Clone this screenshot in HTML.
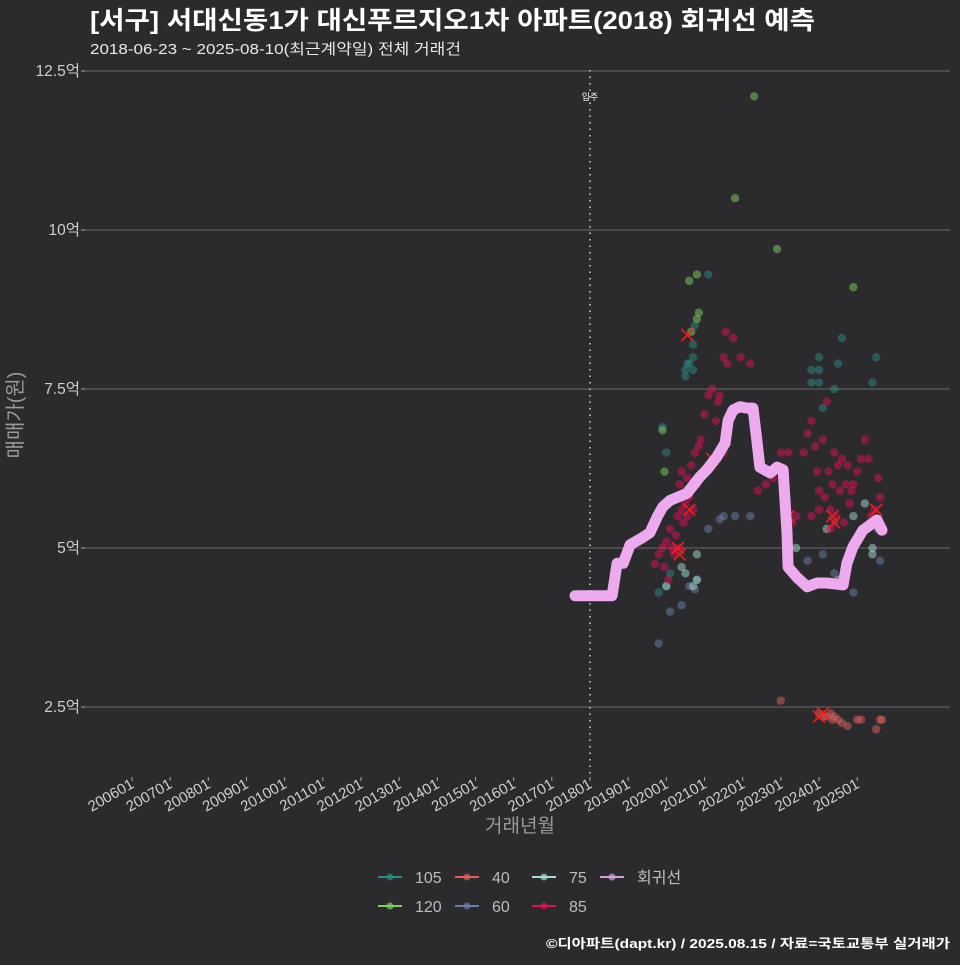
<!DOCTYPE html>
<html><head><meta charset="utf-8">
<style>
html,body{margin:0;padding:0;background:#2b2b2d;}
body{width:960px;height:960px;overflow:hidden;font-family:"Liberation Sans","Noto Sans CJK KR",sans-serif;}
</style></head>
<body>
<svg id="chart" width="960" height="960" xmlns="http://www.w3.org/2000/svg" style="font-family:'Liberation Sans','Noto Sans CJK KR',sans-serif">
<rect x="0" y="0" width="960" height="960" fill="#2b2b2d"/>
<text x="90" y="29" fill="#ffffff" font-size="25" font-weight="bold" textLength="725" lengthAdjust="spacingAndGlyphs">[서구] 서대신동1가 대신푸르지오1차 아파트(2018) 회귀선 예측</text>
<text x="90" y="54" fill="#e8e8e8" font-size="15" textLength="371" lengthAdjust="spacingAndGlyphs">2018-06-23 ~ 2025-08-10(최근계약일) 전체 거래건</text>
<g id="grid"></g>
<g id="xaxis"></g>
<g id="yaxis"></g>
<g id="points"></g>
<g id="line"></g>
<text transform="translate(22,415) rotate(-90)" text-anchor="middle" fill="#9a9a9a" font-size="20">매매가(원)</text>
<text x="520" y="832" text-anchor="middle" fill="#9a9a9a" font-size="19">거래년월</text>
<g id="legend"></g>
<text x="950" y="948" text-anchor="end" fill="#ffffff" font-size="13" font-weight="bold" textLength="404" lengthAdjust="spacingAndGlyphs">©디아파트(dapt.kr) / 2025.08.15 / 자료=국토교통부 실거래가</text>
</svg>
<script>
const yTicks = [2.5, 5, 7.5, 10, 12.5];
const yTickLabels = ["2.5억", "5억", "7.5억", "10억", "12.5억"];
const xTickYears = [2006,2007,2008,2009,2010,2011,2012,2013,2014,2015,2016,2017,2018,2019,2020,2021,2022,2023,2024,2025];
const xTickLabels = ["200601","200701","200801","200901","201001","201101","201201","201301","201401","201501","201601","201701","201801","201901","202001","202101","202201","202301","202401","202501"];
const moveInYear = 2018.0;
const lineYears = [2017.61,2018.58,2018.71,2018.87,2019.05,2019.39,2019.57,2019.76,2019.91,2020.10,2020.54,2020.88,2021.06,2021.32,2021.54,2021.62,2021.75,2021.93,2022.11,2022.27,2022.37,2022.45,2022.72,2022.90,2023.06,2023.16,2023.19,2023.42,2023.69,2023.95,2024.21,2024.63,2024.73,2024.89,2025.15,2025.52,2025.65];
const lineValues = [4.25,4.25,4.76,4.76,5.05,5.17,5.24,5.49,5.65,5.75,5.86,6.12,6.23,6.43,6.65,7.01,7.17,7.22,7.20,7.20,6.70,6.27,6.18,6.27,6.23,5.24,4.70,4.54,4.39,4.45,4.45,4.42,4.76,5.02,5.28,5.44,5.28];
const s85x = [2019.7,2019.8,2019.9,2019.95,2020.0,2020.05,2020.1,2020.15,2020.2,2020.25,2020.3,2020.3,2020.35,2020.35,2020.4,2020.4,2020.45,2020.5,2020.5,2020.55,2020.55,2020.6,2020.65,2020.7,2020.75,2020.8,2020.85,2020.9,2021.0,2021.1,2021.2,2021.3,2021.35,2021.4,2021.5,2021.55,2021.6,2021.75,2021.95,2022.2,2021.2,2021.5,2022.8,2023.0,2023.2,2023.3,2023.4,2023.6,2023.7,2023.8,2023.9,2023.95,2024.0,2024.1,2024.15,2024.2,2024.25,2024.3,2024.35,2024.4,2024.45,2024.5,2024.55,2024.6,2024.65,2024.7,2024.75,2024.8,2024.85,2024.9,2025.0,2025.1,2025.2,2025.3,2025.35,2025.45,2025.55,2025.6,2024.3,2024.4,2023.8,2024.0,2022.6,2022.4];
const s85v = [4.75,4.9,5.0,4.7,5.1,4.5,5.3,5.0,4.9,5.2,5.5,5.8,6.0,5.0,5.6,6.2,5.4,5.7,5.9,6.1,5.5,5.8,6.3,5.6,6.5,6.0,6.6,6.7,7.1,7.4,7.5,7.0,7.3,7.4,8.0,8.4,7.9,8.3,8.0,7.9,6.4,6.5,6.1,6.5,6.5,5.4,5.5,6.5,6.8,7.0,6.6,6.2,5.9,6.7,5.8,7.3,6.2,5.6,6.0,6.5,5.5,6.3,5.9,6.4,5.4,6.0,6.3,5.7,5.9,6.0,6.2,6.4,6.7,6.4,5.5,5.6,6.1,5.8,5.3,5.4,5.5,5.6,6.0,5.9];
const s105x = [2019.8,2019.9,2020.0,2020.0,2020.5,2020.5,2020.55,2020.6,2020.7,2020.7,2020.7,2020.75,2020.1,2021.1,2023.8,2023.8,2024.0,2024.0,2024.0,2024.1,2024.4,2024.5,2024.6,2025.5,2025.4];
const s105v = [4.3,6.9,6.5,4.4,7.7,7.8,7.9,7.9,7.8,8.0,8.2,8.5,4.6,9.3,7.8,7.6,7.8,7.6,8.0,7.2,7.5,7.9,8.3,8.0,7.6];
const s120x = [2019.9,2019.95,2020.6,2020.8,2020.65,2020.8,2020.85,2021.8,2022.3,2022.9,2024.9];
const s120v = [6.85,6.2,9.2,9.3,8.4,8.6,8.7,10.5,12.1,9.7,9.1];
const s75x = [2020.0,2020.4,2020.5,2020.7,2020.8,2020.8,2023.4,2023.2,2024.2,2024.5,2024.9,2025.2,2025.4,2025.4,2025.55];
const s75v = [4.4,4.7,4.6,4.4,4.5,4.9,5.0,4.8,5.3,4.5,5.5,5.7,5.0,4.9,5.3];
const s60x = [2019.8,2020.1,2020.4,2020.6,2020.75,2020.8,2021.1,2021.4,2021.5,2021.8,2022.2,2024.1,2024.4,2024.9,2025.6,2023.7];
const s60v = [3.5,4.0,4.1,4.4,4.35,4.5,5.3,5.45,5.5,5.5,5.5,4.9,4.6,4.3,4.8,4.8];
const s40x = [2023.0,2024.0,2024.1,2024.2,2024.3,2024.35,2024.4,2024.5,2024.6,2024.75,2025.0,2025.1,2025.5,2025.6,2025.65];
const s40v = [2.6,2.4,2.35,2.35,2.4,2.3,2.35,2.3,2.25,2.2,2.3,2.3,2.15,2.3,2.3];
const xMarkX = [2020.55,2020.3,2020.35,2020.6,2021.2,2024.4,2024.35,2025.5,2023.2,2024.0,2024.1];
const xMarkV = [8.35,5.0,4.9,5.6,6.4,5.4,5.5,5.6,5.5,2.35,2.4];

const NS = "http://www.w3.org/2000/svg";
function xs(yr){ return 590 + (yr - 2018) * 38.17; }
function ys(v){ return 866 - v * 63.6; }
function mk(tag, attrs, parent){ const e=document.createElementNS(NS,tag); for(const k in attrs) e.setAttribute(k,attrs[k]); parent.appendChild(e); return e; }

const grid=document.getElementById('grid'), xa=document.getElementById('xaxis'), ya=document.getElementById('yaxis');
yTicks.forEach((t,i)=>{
  const l=mk('line',{x1:85,x2:950,y1:ys(t),y2:ys(t),stroke:'#6a6a6a','stroke-width':1},grid);
  
  
  const tk=mk('line',{x1:81,x2:85,y1:ys(t),y2:ys(t),stroke:'#aaa'},ya);
  
  
  const tx=mk('text',{x:80,y:ys(t)+5,'text-anchor':'end',fill:'#cfcfcf','font-size':15.5},ya);
  tx.textContent=yTickLabels[i];
  
  
});
xTickYears.forEach((yr,i)=>{
  const x=xs(yr);
  const tk=mk('line',{x1:x,x2:x,y1:777,y2:781,stroke:'#aaa'},xa);
  
  
  const tx=mk('text',{transform:`translate(${x+3},${787}) rotate(-30)`,'text-anchor':'end',fill:'#cfcfcf','font-size':15},xa);
  tx.textContent=xTickLabels[i];
  
  
});
const mv=mk('line',{x1:xs(moveInYear),x2:xs(moveInYear),y1:70,y2:778,stroke:'#cccccc','stroke-width':1.6,'stroke-dasharray':'1.5 5'},grid);


const mvt=mk('text',{x:xs(moveInYear),y:100,'text-anchor':'middle',fill:'#ffffff','font-size':9},grid);
mvt.textContent='입주';



const pts=document.getElementById('points');
const series=[
 ['105',s105x,s105v,'#2e8a84'],['120',s120x,s120v,'#7fcf5e'],['40',s40x,s40v,'#e0605c'],
 ['60',s60x,s60v,'#6a7fa8'],['75',s75x,s75v,'#a5ddd5'],['85',s85x,s85v,'#e0105a']];
series.forEach(s=>{
  s[1].forEach((yr,i)=>{
    const c=mk('circle',{cx:xs(yr),cy:ys(s[2][i]),r:4.2,fill:s[3],'fill-opacity':0.5},pts);
    
    
  });
});
xMarkX.forEach((yr,i)=>{
  const x=xs(yr), y=ys(xMarkV[i]);
  const p=mk('path',{d:`M${x-6},${y-6}L${x+6},${y+6}M${x-6},${y+6}L${x+6},${y-6}`,stroke:'#ff1a1a','stroke-width':1.5},pts);
  
  
});
const lg=document.getElementById('line');
const d=lineYears.map((yr,i)=>(i?'L':'M')+xs(yr).toFixed(1)+','+ys(lineValues[i]).toFixed(1)).join('');
const rl=mk('path',{d:d,fill:'none',stroke:'#eeaaee','stroke-width':11,'stroke-linejoin':'round','stroke-linecap':'round'},lg);



const leg=document.getElementById('legend');
const legNames=['105','40','75','회귀선','120','60','85'];
const legColors=['#2e8a84','#e0605c','#a5ddd5','#d9a0df','#7fcf5e','#6a7fa8','#e0105a'];
const legX=[378,455,532,600,378,455,532];
const legY=[877,877,877,877,906,906,906];
legNames.forEach((n,i)=>{
  const g=mk('g',{},leg);
  
  
  mk('line',{x1:legX[i],x2:legX[i]+24,y1:legY[i],y2:legY[i],stroke:legColors[i],'stroke-width':2},g);
  mk('circle',{cx:legX[i]+12,cy:legY[i],r:3.5,fill:legColors[i],'fill-opacity':0.7},g);
  const t=mk('text',{x:legX[i]+37,y:legY[i]+6,fill:'#bdbdbd','font-size':16},g);
  t.textContent=n;
});
</script>
</body></html>
